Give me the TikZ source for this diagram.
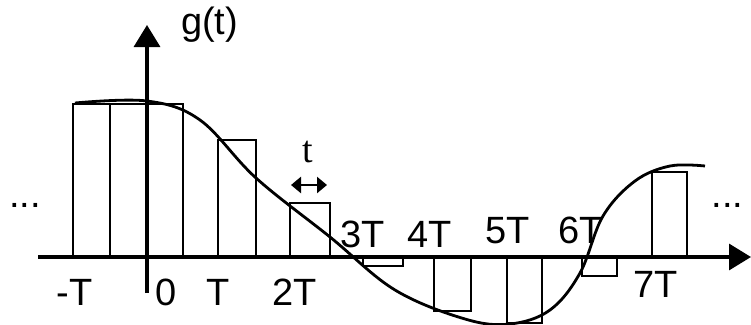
\documentclass[tikz,border=0pt]{standalone}
\usepackage{fontspec}
\setmainfont{Liberation Sans}
\newfontfamily\tfont{Liberation Serif}
\usetikzlibrary{arrows.meta}
\begin{document}
\begin{tikzpicture}[x=1pt,y=-1pt,line width=2.9pt]
  \tikzstyle{lbl}=[inner sep=0pt, anchor=base, font=\fontsize{38}{38}\selectfont]
  \tikzstyle{axis}=[line width=3.3pt, -{Triangle[length=22pt,width=26pt]}]
  \tikzstyle{gap}=[line width=2.8pt, {Triangle[length=10pt,width=16pt]}-{Triangle[length=10pt,width=16pt]}]

  \useasboundingbox (0,0) rectangle (751,324);

  % sample pulses
  \foreach \l/\r/\h in {73/110/104, 110/183/104, 218/256/140, 290/330/203, 363/403/266,
                        434/471/311, 507/542/323, 582/617/276, 652/687/172}
    \draw (\l,257) rectangle (\r,\h);

  % axes
  \coordinate (xs) at (38,257);
  \coordinate (xe) at (751,257);
  \coordinate (ys) at (147,293);
  \coordinate (ye) at (147,25);
  \draw[axis] (xs) -- (xe);
  \draw[axis] (ys) -- (ye);

  % g(t)
  \draw[line width=2.8pt] plot[smooth, tension=0.6] coordinates {
    (75,103) (147,101) (200,120) (256,178) (330,237) (395,290)
    (465,319) (510,324) (550,310) (580,273) (603,216) (635,181) (670,166) (705,166)};

  % pulse width
  \coordinate (wl) at (291,185);
  \coordinate (wr) at (327,185);
  \draw[gap] (wl) -- (wr);
  \node[lbl, font=\tfont\fontsize{38}{38}\selectfont] (tau) at (308,162) {t};

  \node[lbl] (gt) at (209.5,34) {g(t)};
  \node[lbl] (dl) at (25,207) {...};
  \node[lbl] (dr) at (727.5,207) {...};

  \node[lbl] (tm1) at (74.5,305) {-T};
  \node[lbl] (t0) at (166,305) {0};
  \node[lbl] (t1) at (218.5,305) {T};
  \node[lbl] (t2) at (294.5,305) {2T};
  \node[lbl] (t3) at (362.5,247) {3T};
  \node[lbl] (t4) at (429.5,247) {4T};
  \node[lbl] (t5) at (508,243) {5T};
  \node[lbl] (t6) at (581,243) {6T};
  \node[lbl] (t7) at (655.5,297) {7T};
\end{tikzpicture}
\end{document}
